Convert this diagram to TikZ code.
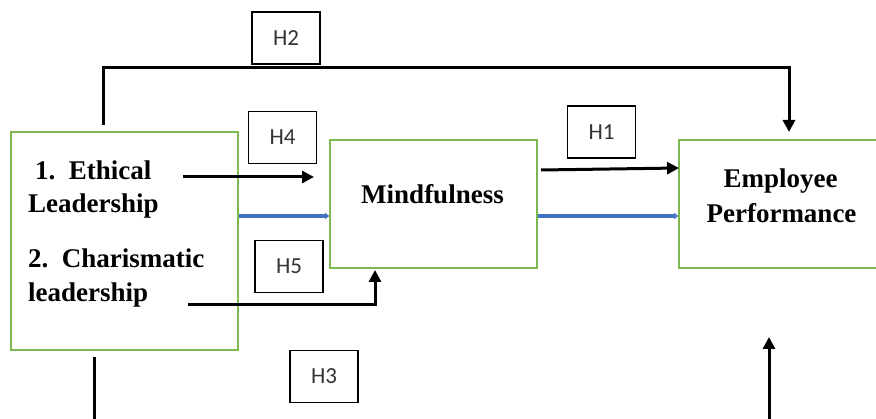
\documentclass[tikz,border=0pt]{standalone}
\usepackage{fontspec}
\setmainfont{Liberation Serif}
\newfontfamily\hfont{Carlito}
\usetikzlibrary{arrows.meta}
\definecolor{boxgreen}{RGB}{125,185,80}
\definecolor{arrblue}{RGB}{68,114,196}
\begin{document}
\begin{tikzpicture}[x=1pt,y=-1pt,
  gbox/.style={draw=boxgreen,line width=1.6pt,minimum width=#1,minimum height=128pt,inner sep=0pt},
  hbox/.style={draw=black,line width=1.5pt,minimum width=68pt,minimum height=52pt,inner sep=0pt,font=\hfont\fontsize{23}{26}\selectfont,text=black!80},
  btxt/.style={font=\bfseries\fontsize{27}{35}\selectfont,inner sep=0pt},
  blk/.style={line width=3pt,-{Triangle[length=12pt,width=12pt]}},
  bln/.style={line width=3pt},
  blu/.style={draw=arrblue,line width=3.5pt,-{Triangle[length=4pt,width=6pt]}}]
\useasboundingbox (0,0) rectangle (876,419);
\clip (0,0) rectangle (876,419);
% boxes
\node[gbox=227pt,minimum height=218pt] (lead) at (124.5,241) {};
\node[gbox=207pt] (mind) at (433.5,204) {};
\node[gbox=207pt] (emp) at (782.5,204) {};
% texts
\node[btxt,anchor=base west] (t1) at (35,180) {1.\ \ Ethical};
\node[btxt,anchor=base west] (t2) at (28,213) {Leadership};
\node[btxt,anchor=base west] (t3) at (28,268) {2.\ \ Charismatic};
\node[btxt,anchor=base west] (t4) at (28,302) {leadership};
\node[btxt,anchor=base] (tm) at (432.5,204) {Mindfulness};
\node[btxt,anchor=base] (te1) at (780.5,188) {Employee};
\node[btxt,anchor=base] (te2) at (781.5,223) {Performance};
% hypothesis labels
\node[hbox] (h2) at (286,38) {H2};
\node[hbox] (h4) at (282.5,137.5) {H4};
\node[hbox] (h1) at (601.5,132) {H1};
\node[hbox] (h5) at (289,266.5) {H5};
\node[hbox] (h3) at (324,376.5) {H3};
% connector coordinates
\coordinate (h2s) at (103,125);
\coordinate (h2a) at (103,68);
\coordinate (h2b) at (789,68);
\coordinate (h2e) at (789,132);
\coordinate (h4s) at (183,177);
\coordinate (h4e) at (314,177);
\coordinate (h1s) at (541,170);
\coordinate (h1e) at (679,168);
\coordinate (h5s) at (188,305);
\coordinate (h5a) at (375,305);
\coordinate (h5e) at (375,270);
\coordinate (b1s) at (94,357);
\coordinate (b1e) at (94,425);
\coordinate (b2s) at (769,425);
\coordinate (b2e) at (769,337);
% connectors
\draw[blk,line join=miter] (h2s) -- (h2a) -- (h2b) -- (h2e);
\draw[blk] (h4s) -- (h4e);
\draw[blk] (h1s) -- (h1e);
\draw[blk] (h5s) -- (h5a) -- (h5e);
\draw[bln] (b1s) -- (b1e);
\draw[blk] (b2s) -- (b2e);
\draw[blu] (lead.east |- 0,216) -- (mind.west |- 0,216);
\draw[blu] (mind.east |- 0,216) -- (emp.west |- 0,216);
\end{tikzpicture}
\end{document}
